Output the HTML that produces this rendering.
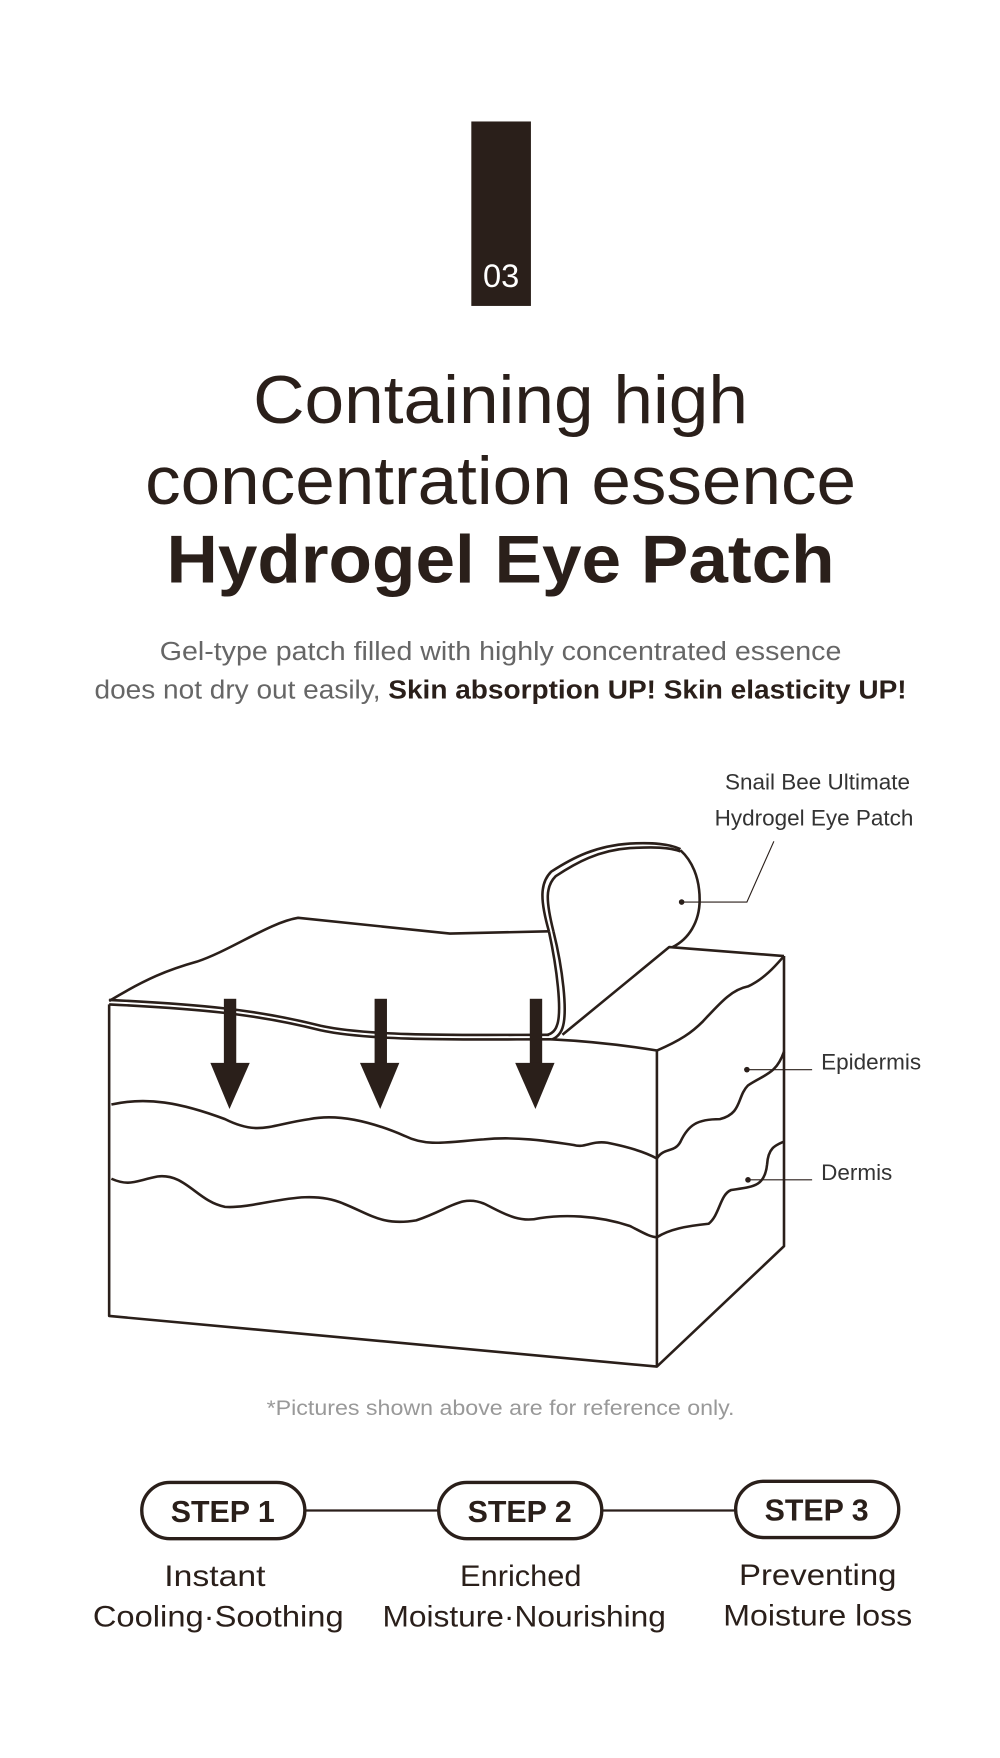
<!DOCTYPE html>
<html><head><meta charset="utf-8"><style>
html,body{margin:0;padding:0;background:#fff;}
svg{display:block;}
text{font-family:"Liberation Sans",sans-serif;}
</style></head><body>
<svg width="1000" height="1758" viewBox="0 0 889 1563" xmlns="http://www.w3.org/2000/svg">
<rect width="889" height="1563" fill="#fff"/>
<rect x="419" y="108" width="53" height="164" fill="#2a1f1a"/>
<text x="445.5" y="255" font-size="29" fill="#fff" text-anchor="middle">03</text>
<g fill="#2a1f1a" text-anchor="middle">
<text x="445" y="376" font-size="60" textLength="440" lengthAdjust="spacingAndGlyphs">Containing high</text>
<text x="445" y="448" font-size="60" textLength="632" lengthAdjust="spacingAndGlyphs">concentration essence</text>
<text x="445" y="518" font-size="60" font-weight="bold" textLength="594" lengthAdjust="spacingAndGlyphs">Hydrogel Eye Patch</text>
</g>
<text x="445" y="587" font-size="23" fill="#666" text-anchor="middle" textLength="606" lengthAdjust="spacingAndGlyphs">Gel-type patch filled with highly concentrated essence</text>
<text x="84" y="621" font-size="23" fill="#666" textLength="722" lengthAdjust="spacingAndGlyphs">does not dry out easily, <tspan fill="#2a1f1a" font-weight="bold">Skin absorption UP! Skin elasticity UP!</tspan></text>

<g fill="none" stroke="#2a1f1a" stroke-width="2.3" stroke-linejoin="round">
<path d="M97 890 C130 870 150 862 175 855 C205 845 240 820 265 816 L400 830 L488 828"/>
<path d="M97 889 C180 893 230 898 285 912 C330 922 420 920 488 920"/>
<path d="M97 893 C180 897 230 902 285 916 C330 926 420 924 490 924"/>
<path d="M490 924 C530 926 560 930 584 934"/>
<path d="M488 828 C495 860 500 900 495 912 C493 918 488 920 486 920"/>
<path d="M492 828 C500 860 505 900 500 914 C498 920 493 924 490 924"/>
<path d="M488 828 C480 800 480 785 490 775 C510 762 530 752 560 750 C580 749 595 750 605 755"/>
<path d="M492 828 C485 800 485 788 494 779 C512 767 532 756 560 754 C580 753 595 753 605 757"/>
<path d="M605 756 C615 765 622 780 622 800 C622 820 612 835 598 842"/>
<path d="M500 920 L595 842 L697 850"/>
<path d="M584 934 C605 925 615 918 625 908 C640 892 650 880 665 877 C680 870 690 858 697 850"/>
<path d="M697 850 L697 1108 L584 1215 L97 1170 L97 893"/>
<path d="M584 934 L584 1215"/>
<path d="M99 982 C130 975 160 980 200 995 C230 1010 240 1000 275 995 C300 990 330 997 360 1010 C380 1020 400 1015 430 1013 C460 1010 490 1015 510 1018 C520 1021 525 1014 540 1016 C560 1020 575 1025 584 1030"/>
<path d="M99 1048 C115 1055 120 1050 140 1046 C165 1043 175 1068 200 1073 C230 1075 270 1055 305 1070 C330 1080 340 1090 370 1085 C400 1075 410 1062 430 1070 C445 1077 460 1088 480 1083 C500 1080 530 1080 560 1090 C570 1095 578 1100 584 1100"/>
<path d="M584 1030 C590 1020 600 1025 605 1015 C612 1000 620 995 640 995 C660 990 655 975 665 965 C680 955 690 955 697 935"/>
<path d="M584 1100 C595 1093 610 1090 630 1088 C640 1080 640 1062 650 1058 C670 1055 680 1055 682 1035 C683 1020 690 1018 697 1015"/>
</g>
<g fill="#2a1f1a">
<rect x="199" y="888" width="11" height="60"/><polygon points="187,945 222,945 204,986"/>
<rect x="333" y="888" width="11" height="60"/><polygon points="320,945 355,945 338,986"/>
<rect x="471" y="888" width="11" height="60"/><polygon points="458,945 493,945 476,986"/>
<circle cx="606" cy="802" r="2.5"/><circle cx="664" cy="951" r="2.5"/><circle cx="665" cy="1049" r="2.5"/>
</g>
<g fill="none" stroke="#2a1f1a" stroke-width="1">
<path d="M606 802 L664 802 L688 748"/>
<path d="M664 951 L722 951"/>
<path d="M665 1049 L722 1049"/>
</g>
<g font-size="20" fill="#333">
<text x="809" y="702" text-anchor="end">Snail Bee Ultimate</text>
<text x="812" y="734" text-anchor="end">Hydrogel Eye Patch</text>
<text x="730" y="951">Epidermis</text>
<text x="730" y="1049">Dermis</text>
</g>
<text x="445" y="1258" font-size="19" fill="#999" text-anchor="middle" textLength="416" lengthAdjust="spacingAndGlyphs">*Pictures shown above are for reference only.</text>

<line x1="270" y1="1343" x2="655" y2="1343" stroke="#2a1f1a" stroke-width="2"/>
<g fill="#fff" stroke="#2a1f1a" stroke-width="3">
<rect x="126" y="1318" width="145" height="50" rx="25"/>
<rect x="390" y="1318" width="145" height="50" rx="25"/>
<rect x="654" y="1317" width="145" height="50" rx="25"/>
</g>
<g fill="#2a1f1a" font-weight="bold" font-size="27" text-anchor="middle">
<text x="198" y="1353">STEP 1</text>
<text x="462" y="1353">STEP 2</text>
<text x="726" y="1352">STEP 3</text>
</g>
<g fill="#2a1f1a" font-size="26" text-anchor="middle">
<text x="191" y="1410" textLength="90" lengthAdjust="spacingAndGlyphs">Instant</text>
<text x="194" y="1446" textLength="223" lengthAdjust="spacingAndGlyphs">Cooling·Soothing</text>
<text x="463" y="1410" textLength="108" lengthAdjust="spacingAndGlyphs">Enriched</text>
<text x="466" y="1446" textLength="252" lengthAdjust="spacingAndGlyphs">Moisture·Nourishing</text>
<text x="727" y="1409" textLength="140" lengthAdjust="spacingAndGlyphs">Preventing</text>
<text x="727" y="1445" textLength="168" lengthAdjust="spacingAndGlyphs">Moisture loss</text>
</g>
</svg>
</body></html>
